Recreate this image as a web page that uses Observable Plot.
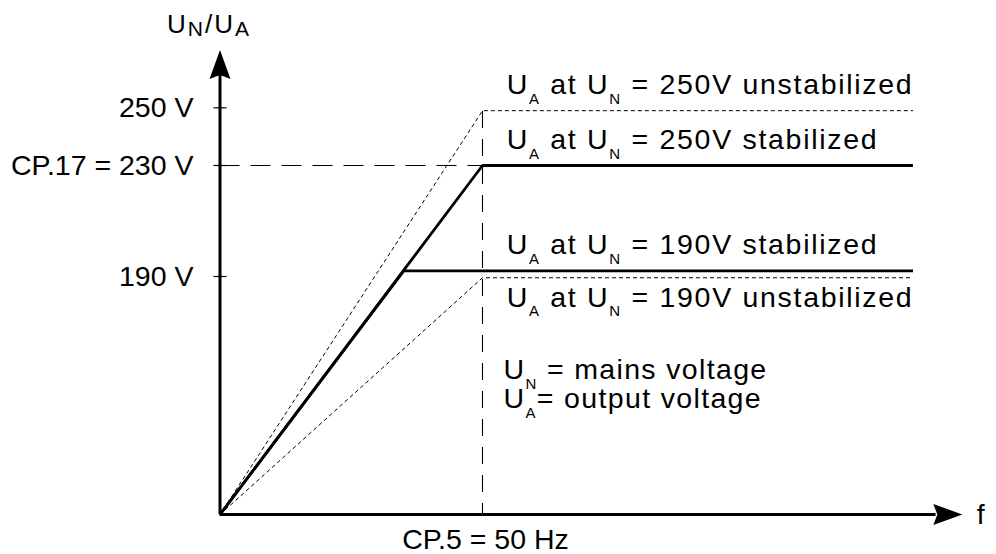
<!DOCTYPE html>
<html>
<head>
<meta charset="utf-8">
<script src="https://cdn.jsdelivr.net/npm/d3@7"></script>
<script src="https://cdn.jsdelivr.net/npm/@observablehq/plot@0.6"></script>
<style>
  html, body { margin: 0; padding: 0; background: #fff; }
  svg { display: block; }
</style>
</head>
<body>
<div id="chart"></div>
<script>
// ---- data ----
const lineNames   = ["unstab250", "stab250", "stab190", "unstab190"];
const lineKinds   = ["unstabilized", "stabilized", "stabilized", "unstabilized"];
const cornerHz    = [50, 50, 35, 50];      // frequency where the ramp ends
const plateauV    = [249, 230, 192, 189];  // output voltage after the ramp
const endHz       = 132;                   // right end of the curves
const lineLabels  = [
  "U_{A} at U_{N} = 250V unstabilized",
  "U_{A} at U_{N} = 250V stabilized",
  "U_{A} at U_{N} = 190V stabilized",
  "U_{A} at U_{N} = 190V unstabilized"
];
const labelSide   = ["above", "above", "above", "below"];
const labelHz     = 54.6;

const yTickValues = [190, 230, 250];
const yTickLabels = ["190 V", "CP.17 = 230 V", "250 V"];
const xTickValues = [50];
const xTickLabels = ["CP.5 = 50 Hz"];

const refHz = 50;       // CP.5
const refV  = 230;      // CP.17
const refTopV = 249;

const axisEndHz = 141.4; // arrow tip on f axis
const axisEndV  = 270;   // arrow tip on U axis
const noteTexts = ["U_{N} = mains voltage", "U_{A}= output voltage"];
const noteV     = [108, 85];
const noteHz    = 54;
const yTitle = "U_{N}/U_{A}";
const xTitle = "f";

// ---- tables built from the arrays ----
const points = lineNames.flatMap((name, i) => [
  {name, kind: lineKinds[i], f: 0, v: 0},
  {name, kind: lineKinds[i], f: cornerHz[i], v: plateauV[i]},
  {name, kind: lineKinds[i], f: endHz, v: plateauV[i]}
]);
const labels = lineLabels.map((text, i) => ({text, f: labelHz, v: plateauV[i], side: labelSide[i]}));
const yTicks = yTickValues.map((v, i) => ({v, label: yTickLabels[i]}));
const xTicks = xTickValues.map((f, i) => ({f, label: xTickLabels[i]}));
const notes = noteTexts.map((text, i) => ({text, f: noteHz, v: noteV[i]}));

const arrowHead = {
  draw(ctx) {
    ctx.moveTo(0, 0);
    ctx.lineTo(10.5, 29);
    ctx.lineTo(0, 25);
    ctx.lineTo(-10.5, 29);
    ctx.closePath();
  }
};
const tickSymbol = {
  draw(ctx) { ctx.moveTo(-6.5, 0); ctx.lineTo(6.5, 0); }
};

const FONT = "'Liberation Sans', Arial, Helvetica, sans-serif";
const FS = 28.5;

const chart = Plot.plot({
  width: 996,
  height: 554,
  margin: 0,
  style: {fontFamily: FONT, fontSize: FS + "px", background: "#fff", color: "#000", overflow: "visible"},
  x: {type: "linear", domain: [0, 50], range: [219.5, 482], axis: null},
  y: {type: "linear", domain: [0, 190, 230, 250], range: [514, 276, 165, 107.3], axis: null},
  marks: [
    // reference dashed lines
    Plot.ruleY([{v: refV, f1: 0, f2: refHz}], {y: "v", x1: "f1", x2: "f2", stroke: "#000", strokeWidth: 1.1, strokeDasharray: "20,11"}),
    Plot.ruleX([{f: refHz, v1: 0, v2: refTopV}], {x: "f", y1: "v1", y2: "v2", stroke: "#000", strokeWidth: 1.1, strokeDasharray: "17,11", strokeDashoffset: 6}),
    // unstabilized curves (dotted)
    Plot.line(points.filter(d => d.kind === "unstabilized"), {x: "f", y: "v", z: "name", stroke: "#000", strokeWidth: 1, strokeDasharray: "4,3", strokeLinejoin: "miter", strokeLinecap: "butt"}),
    // stabilized curves (solid)
    Plot.line(points.filter(d => d.kind === "stabilized"), {x: "f", y: "v", z: "name", stroke: "#000", strokeWidth: 2.8, strokeLinejoin: "miter", strokeLinecap: "butt"}),
    // axes
    Plot.ruleX([{f: 0, v1: 0, v2: axisEndV - 8}], {x: "f", y1: "v1", y2: "v2", stroke: "#000", strokeWidth: 3}),
    Plot.ruleY([{v: 0, f1: 0, f2: axisEndHz - 5}], {y: "v", x1: "f1", x2: "f2", stroke: "#000", strokeWidth: 3}),
    Plot.dot([{f: 0, v: axisEndV}], {x: "f", y: "v", symbol: arrowHead, fill: "#000", stroke: "none"}),
    Plot.dot([{f: axisEndHz, v: 0}], {x: "f", y: "v", symbol: arrowHead, rotate: 90, fill: "#000", stroke: "none"}),
    // y ticks and labels
    Plot.dot(yTicks, {x: () => 0, y: "v", symbol: tickSymbol, fill: "none", stroke: "#000", strokeWidth: 1.2}),
    Plot.text(yTicks, {x: () => 0, y: "v", text: "label", textAnchor: "end", dx: -26.5, fontSize: FS, fill: "#000"}),
    // x tick label
    Plot.text(xTicks, {x: "f", y: () => 0, text: "label", lineAnchor: "top", dy: 14.5, dx: 3, fontSize: FS, fill: "#000"}),
    // axis titles
    Plot.text([{f: axisEndHz, v: 0}], {x: d => d.f + 3.5, y: "v", text: () => xTitle, fontSize: FS, fill: "#000"}),
    Plot.text([{f: 0, v: axisEndV}], {x: "f", y: "v", text: () => yTitle, lineAnchor: "bottom", dy: -17, dx: -11, fontSize: 26, fill: "#000"}),
    // curve labels
    Plot.text(labels.filter(d => d.side === "above"), {x: "f", y: "v", text: "text", textAnchor: "start", lineAnchor: "bottom", dy: -16.5, fontSize: FS, fill: "#000"}),
    Plot.text(labels.filter(d => d.side === "below"), {x: "f", y: "v", text: "text", textAnchor: "start", lineAnchor: "top", dy: 9, fontSize: FS, fill: "#000"}),
    // notes
    Plot.text(notes, {x: "f", y: "v", text: "text", textAnchor: "start", lineAnchor: "bottom", fontSize: FS, fill: "#000"})
  ]
});

// turn "_{X}" markup into real subscript tspans
function subscripts(root) {
  const ns = "http://www.w3.org/2000/svg";
  root.querySelectorAll("text").forEach(el => {
    const s = el.textContent;
    if (!s.includes("_{")) return;
    const isTitle = s.startsWith("U_{N}/");
    const isCurve = s.includes(" at ");
    const subSize = isTitle ? 21 : 15;
    const shift = isTitle ? 3 : 9.5;
    el.setAttribute("letter-spacing", isTitle ? "2px" : isCurve ? "1.7px" : "1.35px");
    while (el.firstChild) el.removeChild(el.firstChild);
    let shifted = false;
    for (const p of s.split(/(_\{[^}]*\})/)) {
      if (!p) continue;
      const t = document.createElementNS(ns, "tspan");
      const m = p.match(/^_\{(.*)\}$/);
      if (m) {
        t.textContent = m[1];
        t.setAttribute("font-size", subSize);
        t.setAttribute("dy", shift);
        shifted = true;
      } else {
        t.textContent = p;
        if (shifted) { t.setAttribute("dy", -shift); shifted = false; }
      }
      el.appendChild(t);
    }
  });
}
subscripts(chart);

document.getElementById("chart").appendChild(chart);
</script>
</body>
</html>
